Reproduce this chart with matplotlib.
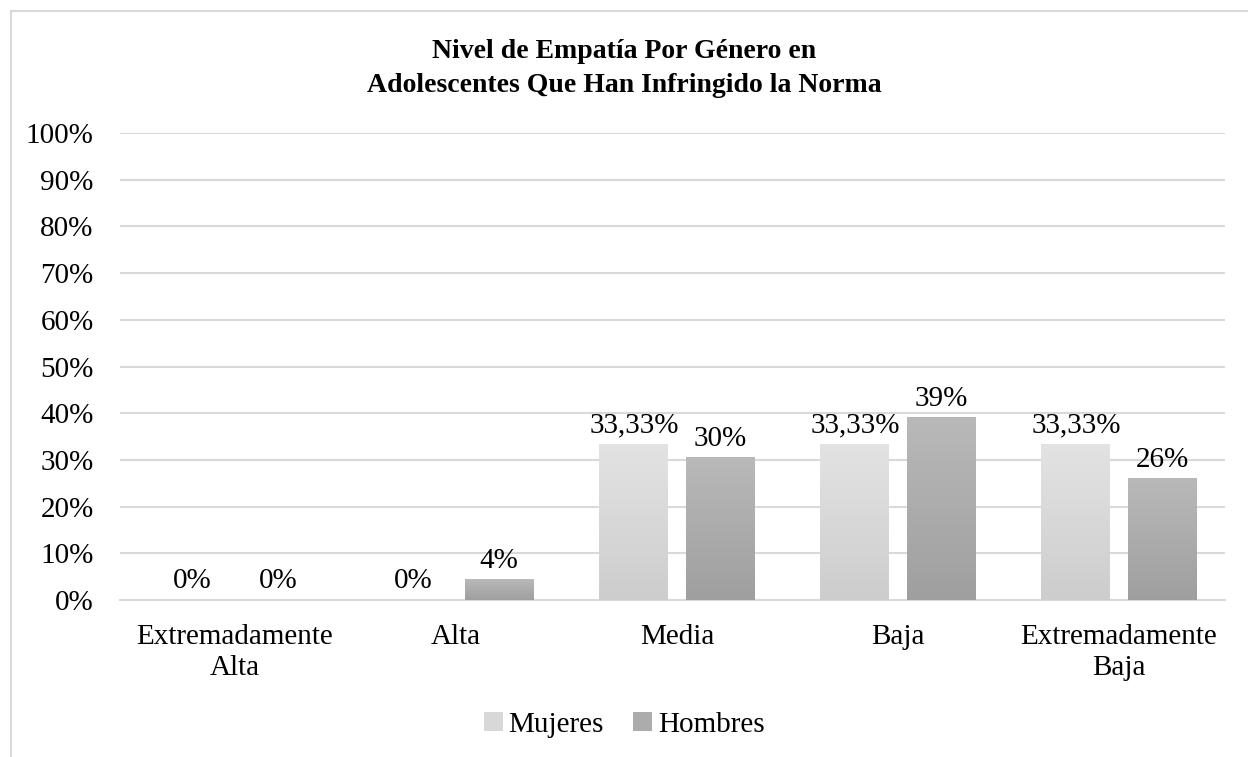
import numpy as np
import matplotlib
matplotlib.use("Agg")
import matplotlib.pyplot as plt
from matplotlib.colors import LinearSegmentedColormap
from matplotlib.patches import Rectangle, Patch

categorias = ["Extremadamente\nAlta", "Alta", "Media", "Baja", "Extremadamente\nBaja"]
mujeres = [0, 0, 33.33, 33.33, 33.33]
hombres = [0, 4.35, 30.43, 39.13, 26.09]
etiquetas_mujeres = ["0%", "0%", "33,33%", "33,33%", "33,33%"]
etiquetas_hombres = ["0%", "4%", "30%", "39%", "26%"]
yticks = list(range(0, 101, 10))
titulo = ["Nivel de Empatía Por Género en", "Adolescentes Que Han Infringido la Norma"]

plt.rcParams['font.family'] = ['Liberation Serif', 'DejaVu Serif']
FS = 21

fig = plt.figure(figsize=(12.48, 7.57), dpi=100)
ax = fig.add_axes([0.0962, 0.2074, 0.8854, 0.6169])

# marco gris (recortado a la derecha y abajo)
fig.patches.append(Rectangle((11 / 1248, -0.1), 1.2, 1 - 11 / 757 + 0.1,
                             transform=fig.transFigure, fill=False,
                             edgecolor="#d9d9d9", linewidth=1.5))

x = np.arange(len(categorias))
w = 0.312
off = 0.195
grad_m = LinearSegmentedColormap.from_list("m", ["#cdcdcd", "#e3e3e3"])
grad_h = LinearSegmentedColormap.from_list("h", ["#9f9f9f", "#b9b9b9"])

bars_m = ax.bar(x - off, mujeres, width=w, color="none", zorder=3)
bars_h = ax.bar(x + off, hombres, width=w, color="none", zorder=3)

grad = np.linspace(0, 1, 256).reshape(-1, 1)
for bars, cmap in [(bars_m, grad_m), (bars_h, grad_h)]:
    for r in bars:
        h = r.get_height()
        if h <= 0:
            continue
        ax.imshow(grad, cmap=cmap, origin="lower", aspect="auto", zorder=3,
                  extent=(r.get_x(), r.get_x() + r.get_width(), 0, h))

for bars, labs in [(bars_m, etiquetas_mujeres), (bars_h, etiquetas_hombres)]:
    for r, t in zip(bars, labs):
        ax.annotate(t, (r.get_x() + r.get_width() / 2, r.get_height()),
                    xytext=(0, 4), textcoords="offset points",
                    ha="center", va="bottom", fontsize=FS)

ax.set_xlim(-0.52, len(categorias) - 0.52)
ax.set_ylim(0, 100)
ax.set_yticks(yticks)
ax.set_yticklabels([f"{v}%" for v in yticks], fontsize=FS)
ax.set_xticks(x)
ax.set_xticklabels(categorias, fontsize=FS, linespacing=1.25)
ax.tick_params(length=0)
ax.tick_params(axis="x", pad=17)
ax.tick_params(axis="y", pad=19)
ax.grid(axis="y", color="#d9d9d9", linewidth=1.5, zorder=0)
ax.set_axisbelow(True)
for s in ["top", "right", "left"]:
    ax.spines[s].set_visible(False)
ax.spines["bottom"].set_color("#d9d9d9")
ax.spines["bottom"].set_linewidth(1.5)

# titulo en dos lineas
for linea, yb in zip(titulo, [58, 92]):
    fig.text(624 / 1248, 1 - yb / 757, linea, ha="center", va="baseline",
             fontsize=20, fontweight="bold")

handles = [Patch(facecolor="#d8d8d8"), Patch(facecolor="#acacac")]
fig.legend(handles, ["Mujeres", "Hombres"], loc="center", bbox_to_anchor=(0.5, 1 - 725 / 757),
           ncol=2, frameon=False, fontsize=FS, handlelength=0.65, handleheight=0.65,
           handletextpad=0.2, columnspacing=1.0)

fig.savefig("out.png", dpi=100)
